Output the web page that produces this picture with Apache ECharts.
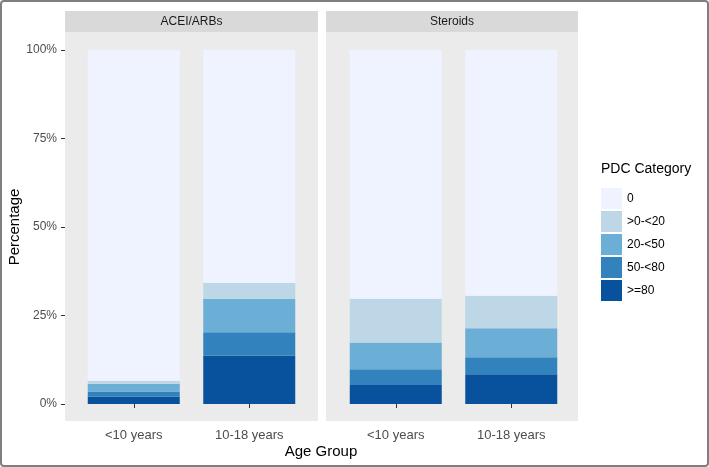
<!DOCTYPE html>
<html lang="en">
<head>
    <meta charset="UTF-8">
    <title>PDC Category by Age Group</title>
    <script src="https://cdn.jsdelivr.net/npm/echarts@6/dist/echarts.min.js"></script>
    <style>
        html, body { margin: 0; padding: 0; background: #fff; }
    </style>
</head>
<body>
<div id="main" style="width: 709px;height:467px;"></div>
<script type="text/javascript">
    // data (percent of patients)
    var ageGroups = ['<10 years', '10-18 years'];
    var panels = ['ACEI/ARBs', 'Steroids'];
    // stacking order bottom -> top
    var pdcLevels = ['>=80', '50-<80', '20-<50', '>0-<20', '0'];
    var pdcColors = ['#08519c', '#3182bd', '#6baed6', '#bdd7e7', '#eff3ff'];
    // one row per pdc level, one value per age group
    var aceiPct = [
        [2.1, 13.6],
        [1.4, 6.7],
        [2.2, 9.4],
        [0.9, 4.5],
        [93.4, 65.8]
    ];
    var steroidPct = [
        [5.4, 8.4],
        [4.4, 4.8],
        [7.6, 8.2],
        [12.3, 9.2],
        [70.3, 69.4]
    ];

    var myChart = echarts.init(document.getElementById('main'));
    var font = 'Liberation Sans, Arial, sans-serif';

    // panel layout (ggplot style facets)
    var panelBox = [{x: 65, w: 253}, {x: 326, w: 252}];
    var gridLeft = [76, 338];

    var grids = [], xAxes = [], yAxes = [], series = [];
    for (var p = 0; p < 2; p++) {
        grids.push({left: gridLeft[p], width: 231, top: 50, bottom: 63});
        xAxes.push({
            type: 'category', gridIndex: p, data: ageGroups, offset: 17,
            axisLine: {show: false},
            axisTick: {show: true, length: 4, alignWithLabel: true, lineStyle: {color: '#333'}},
            axisLabel: {interval: 0, color: '#4d4d4d', fontSize: 13, fontFamily: font, margin: 8}
        });
        yAxes.push({
            type: 'value', gridIndex: p, min: 0, max: 100, interval: 25, offset: 11,
            splitLine: {show: false},
            axisLine: {show: false},
            axisTick: {show: p === 0, length: 4, lineStyle: {color: '#333'}},
            axisLabel: {show: p === 0, formatter: '{value}%', color: '#4d4d4d', fontSize: 12, fontFamily: font, margin: 8},
            name: p === 0 ? 'Percentage' : '',
            nameLocation: 'middle', nameRotate: 90, nameGap: 36,
            nameTextStyle: {color: '#000', fontSize: 15, fontFamily: font}
        });
        var src = p === 0 ? aceiPct : steroidPct;
        for (var i = 0; i < pdcLevels.length; i++) {
            series.push({
                name: pdcLevels[i], type: 'bar', stack: 'panel' + p,
                xAxisIndex: p, yAxisIndex: p,
                barWidth: 92,
                itemStyle: {color: pdcColors[i]},
                data: src[i],
                silent: true
            });
        }
    }

    var graphics = [
        {type: 'rect', shape: {x: 1, y: 1, width: 707, height: 465, r: 3}, style: {fill: 'none', stroke: '#7f7f7f', lineWidth: 2}, z: 10}
    ];
    for (var k = 0; k < 2; k++) {
        graphics.push({type: 'rect', shape: {x: panelBox[k].x, y: 32, width: panelBox[k].w, height: 389}, style: {fill: '#ebebeb'}, z: -10});
        graphics.push({type: 'rect', shape: {x: panelBox[k].x, y: 11, width: panelBox[k].w, height: 21}, style: {fill: '#d9d9d9'}, z: -10});
        graphics.push({type: 'text', x: panelBox[k].x + panelBox[k].w / 2, y: 22,
            style: {text: panels[k], fill: '#1a1a1a', font: '12px ' + font, textAlign: 'center', textVerticalAlign: 'middle'}});
    }
    graphics.push({type: 'text', x: 321, y: 452,
        style: {text: 'Age Group', fill: '#000', font: '15px ' + font, textAlign: 'center', textVerticalAlign: 'middle'}});
    graphics.push({type: 'text', x: 601, y: 169,
        style: {text: 'PDC Category', fill: '#000', font: '14px ' + font, textAlign: 'left', textVerticalAlign: 'middle'}});

    myChart.setOption({
        animation: false,
        backgroundColor: '#fff',
        grid: grids,
        xAxis: xAxes,
        yAxis: yAxes,
        legend: {
            orient: 'vertical', left: 601, top: 188, padding: 0,
            itemWidth: 21, itemHeight: 21, itemGap: 2,
            icon: 'rect',
            data: pdcLevels.slice().reverse(),
            textStyle: {color: '#000', fontSize: 12, fontFamily: font},
            selectedMode: false
        },
        graphic: graphics,
        series: series
    });
</script>
</body>
</html>
